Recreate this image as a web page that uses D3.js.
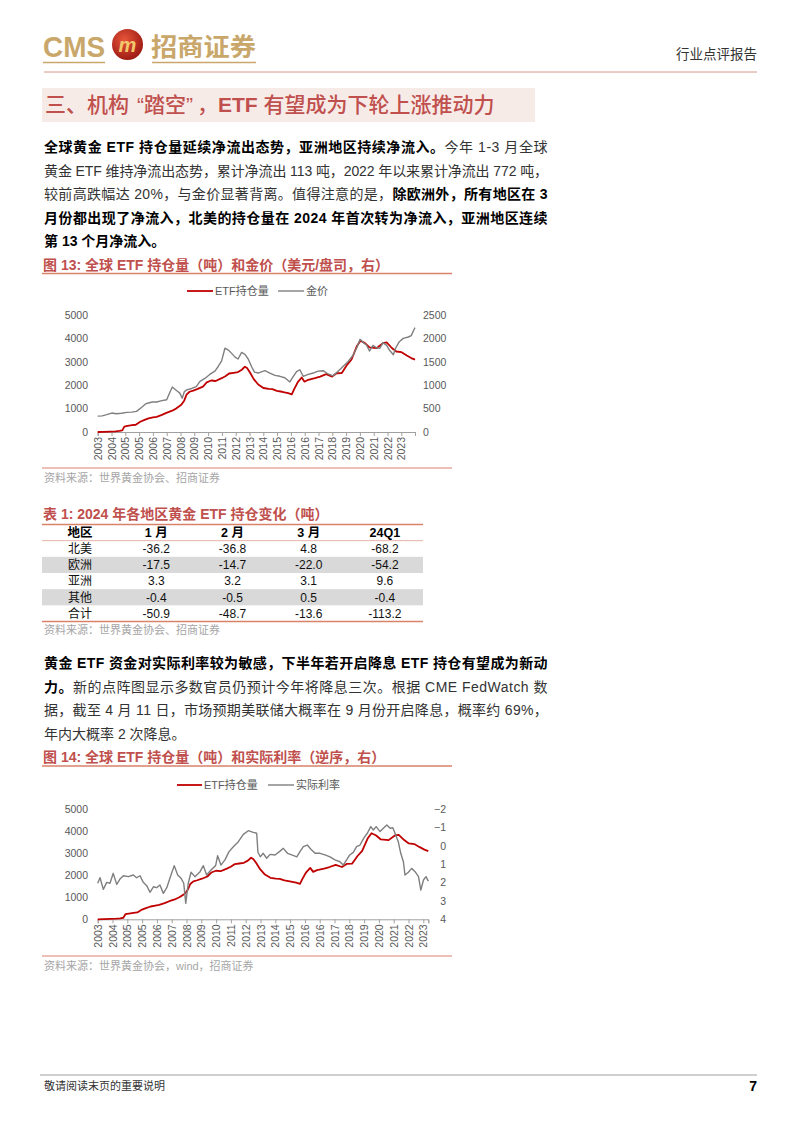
<!DOCTYPE html>
<html><head><meta charset="utf-8">
<script src="https://cdn.jsdelivr.net/npm/d3@7"></script>
<style>
body{margin:0;background:#fff;width:802px;height:1133px;position:relative;overflow:hidden;}
svg{position:absolute;left:0;top:0;}
.line{position:absolute;left:44px;height:20px;line-height:20px;font-size:14px;font-family:'Liberation Sans','Noto Sans CJK SC',sans-serif;color:#333;white-space:nowrap;}
</style></head><body>
<script>
const SANS = "'Liberation Sans','Noto Sans CJK SC',sans-serif";
const TITLE_RED = "#c0504d";
const LINE_RED = "#c00000";
const GRAY = "#7f7f7f";

// ---------------- DATA ----------------
const xTickLabels = ["2003","2004","2005","2005","2006","2007","2008","2009","2010","2011","2012","2013","2014","2015","2016","2016","2017","2018","2019","2020","2021","2022","2023"];
const etfTicks = [0,1000,2000,3000,4000,5000];
const goldTicks = [0,500,1000,1500,2000,2500];
const rateTicks = [-2,-1,0,1,2,3,4];

// ETF holdings (tonnes) [decimal year, value]
const etfHoldings = [[2003.00,0],[2003.40,5],[2003.80,15],[2004.20,30],[2004.45,45],[2004.65,70],[2004.78,230],[2005.00,260],[2005.30,290],[2005.55,310],[2005.85,440],[2006.10,510],[2006.40,580],[2006.70,620],[2006.95,650],[2007.30,730],[2007.60,820],[2007.95,900],[2008.25,1000],[2008.60,1160],[2008.80,1350],[2008.95,1600],[2009.15,1720],[2009.40,1770],[2009.70,1840],[2010.05,1940],[2010.30,2120],[2010.60,2200],[2010.90,2180],[2011.30,2300],[2011.55,2380],[2011.80,2500],[2012.10,2530],[2012.40,2560],[2012.65,2660],[2012.86,2790],[2013.00,2730],[2013.20,2540],[2013.45,2260],[2013.75,2030],[2014.10,1880],[2014.45,1840],[2014.70,1830],[2015.00,1760],[2015.35,1720],[2015.75,1660],[2016.00,1610],[2016.15,1820],[2016.40,2130],[2016.66,2330],[2016.85,2150],[2017.10,2230],[2017.55,2300],[2017.90,2370],[2018.30,2470],[2018.70,2370],[2019.00,2510],[2019.35,2520],[2019.70,2870],[2020.00,3100],[2020.35,3660],[2020.60,3900],[2020.90,3800],[2021.20,3620],[2021.70,3590],[2022.10,3800],[2022.35,3830],[2022.70,3590],[2023.00,3440],[2023.35,3410],[2023.70,3270],[2024.00,3160],[2024.25,3090]];

// Gold price (USD/oz)
const goldPrice = [[2003.00,340],[2003.30,345],[2003.60,370],[2003.94,405],[2004.25,390],[2004.60,400],[2004.95,420],[2005.27,425],[2005.60,440],[2005.95,530],[2006.20,600],[2006.40,620],[2006.65,640],[2006.95,640],[2007.30,670],[2007.62,690],[2007.85,860],[2008.00,960],[2008.15,920],[2008.30,880],[2008.50,830],[2008.66,720],[2008.80,860],[2008.96,900],[2009.30,930],[2009.60,970],[2009.85,1080],[2010.20,1150],[2010.50,1230],[2010.85,1300],[2011.07,1400],[2011.30,1520],[2011.52,1790],[2011.75,1750],[2011.97,1680],[2012.20,1600],[2012.40,1560],[2012.64,1700],[2012.86,1660],[2013.08,1560],[2013.30,1400],[2013.50,1280],[2013.75,1260],[2014.00,1290],[2014.20,1310],[2014.53,1260],[2014.87,1210],[2015.20,1190],[2015.53,1160],[2015.87,1070],[2016.10,1190],[2016.32,1290],[2016.54,1330],[2016.76,1190],[2017.10,1230],[2017.43,1260],[2017.76,1300],[2018.10,1310],[2018.43,1240],[2018.76,1200],[2019.10,1300],[2019.43,1400],[2019.76,1500],[2020.10,1640],[2020.35,1800],[2020.57,1980],[2020.79,1910],[2021.00,1860],[2021.20,1730],[2021.44,1850],[2021.66,1800],[2021.90,1790],[2022.10,1910],[2022.35,1850],[2022.56,1740],[2022.80,1650],[2022.95,1790],[2023.20,1930],[2023.46,2000],[2023.80,2030],[2024.00,2060],[2024.17,2180],[2024.25,2230]];

// Real rate (%), plotted on reversed right axis
const realRate = [[2003.00,2.04],[2003.15,1.74],[2003.36,2.37],[2003.58,1.99],[2003.79,2.04],[2004.00,1.50],[2004.22,2.10],[2004.43,1.81],[2004.65,1.63],[2004.97,1.68],[2005.29,1.59],[2005.50,1.74],[2005.72,1.63],[2005.93,1.99],[2006.15,2.17],[2006.36,2.53],[2006.58,2.23],[2006.79,2.28],[2007.00,2.13],[2007.22,2.59],[2007.44,2.28],[2007.71,1.59],[2007.92,1.08],[2008.14,1.59],[2008.36,1.77],[2008.53,2.04],[2008.66,3.13],[2008.82,2.04],[2009.00,1.44],[2009.25,1.68],[2009.58,1.41],[2009.79,1.08],[2010.00,1.59],[2010.28,1.32],[2010.58,1.08],[2010.71,0.54],[2010.92,1.05],[2011.18,0.77],[2011.44,0.32],[2011.72,0.05],[2012.04,-0.22],[2012.36,-0.62],[2012.68,-0.82],[2013.00,-0.73],[2013.22,-0.68],[2013.30,0.35],[2013.45,0.60],[2013.64,0.41],[2013.86,0.68],[2014.08,0.47],[2014.40,0.50],[2014.72,0.29],[2014.93,0.14],[2015.20,0.41],[2015.47,0.50],[2015.80,0.60],[2016.00,0.32],[2016.22,0.05],[2016.47,-0.04],[2016.69,0.18],[2016.97,0.41],[2017.29,0.41],[2017.61,0.50],[2017.93,0.60],[2018.25,0.77],[2018.57,0.87],[2018.78,1.05],[2019.00,0.77],[2019.20,0.50],[2019.43,0.36],[2019.64,0.05],[2019.86,-0.04],[2020.12,-0.44],[2020.33,-0.68],[2020.55,-1.04],[2020.72,-0.86],[2020.90,-1.04],[2021.15,-0.77],[2021.36,-0.95],[2021.58,-1.13],[2021.80,-0.95],[2021.97,-0.98],[2022.11,-0.68],[2022.32,-0.22],[2022.48,0.41],[2022.65,0.87],[2022.75,1.59],[2022.97,1.44],[2023.18,1.23],[2023.40,1.41],[2023.62,1.68],[2023.77,2.41],[2023.94,1.86],[2024.10,1.68],[2024.25,1.92]];

// Table 1
const tableHeader = ["地区","1 月","2 月","3 月","24Q1"];
const regions = ["北美","欧洲","亚洲","其他","合计"];
const janFlows = [-36.2,-17.5,3.3,-0.4,-50.9];
const febFlows = [-36.8,-14.7,3.2,-0.5,-48.7];
const marFlows = [4.8,-22.0,3.1,0.5,-13.6];
const q1Flows = [-68.2,-54.2,9.6,-0.4,-113.2];

// Paragraph text (b = bold)
const para1 = [
  [["b","全球黄金 ETF 持仓量延续净流出态势，亚洲地区持续净流入。"],["n","今年 1-3 月全球"]],
  [["n","黄金 ETF 维持净流出态势，累计净流出 113 吨，2022 年以来累计净流出 772 吨，"]],
  [["n","较前高跌幅达 20%，与金价显著背离。值得注意的是，"],["b","除欧洲外，所有地区在 3"]],
  [["b","月份都出现了净流入，北美的持仓量在 2024 年首次转为净流入，亚洲地区连续"]],
  [["b","第 13 个月净流入。"]]
];
const para2 = [
  [["b","黄金 ETF 资金对实际利率较为敏感，下半年若开启降息 ETF 持仓有望成为新动"]],
  [["b","力。"],["n","新的点阵图显示多数官员仍预计今年将降息三次。根据 CME FedWatch 数"]],
  [["n","据，截至 4 月 11 日，市场预期美联储大概率在 9 月份开启降息，概率约 69%，"]],
  [["n","年内大概率 2 次降息。"]]
];

// ---------------- PAGE ----------------
const svg = d3.select("body").append("svg").attr("width",802).attr("height",1133);

// Header
const gold = "#c9a76b";
svg.append("text").attr("x",43).attr("y",57).attr("font-family",SANS).attr("font-weight","bold")
  .attr("font-size",30).attr("fill",gold).attr("textLength",62).attr("lengthAdjust","spacingAndGlyphs").text("CMS");
const grad = svg.append("defs").append("radialGradient").attr("id","lg").attr("cx","40%").attr("cy","35%").attr("r","65%");
grad.append("stop").attr("offset","0%").attr("stop-color","#e8553a");
grad.append("stop").attr("offset","100%").attr("stop-color","#9e1b14");
svg.append("circle").attr("cx",127.5).attr("cy",44.5).attr("r",15.5).attr("fill","url(#lg)");
svg.append("text").attr("x",127.5).attr("y",52).attr("text-anchor","middle").attr("font-family",SANS)
  .attr("font-weight","bold").attr("font-style","italic").attr("font-size",20).attr("fill","#f3c86a").text("m");
svg.append("text").attr("x",151).attr("y",56).attr("font-family",SANS).attr("font-weight","bold")
  .attr("font-size",25).attr("fill",gold).attr("textLength",105).attr("lengthAdjust","spacingAndGlyphs").text("招商证券");
svg.append("line").attr("x1",43).attr("x2",105).attr("y1",62.5).attr("y2",62.5).attr("stroke",gold).attr("stroke-width",1.5);
svg.append("line").attr("x1",152).attr("x2",256).attr("y1",62.5).attr("y2",62.5).attr("stroke",gold).attr("stroke-width",1.5);
svg.append("line").attr("x1",44).attr("x2",757).attr("y1",72).attr("y2",72).attr("stroke","#d9968a").attr("stroke-width",1);
svg.append("text").attr("x",757).attr("y",59).attr("text-anchor","end").attr("font-family",SANS)
  .attr("font-size",13.5).attr("fill","#333").text("行业点评报告");

// Section heading
svg.append("rect").attr("x",42).attr("y",88).attr("width",493).attr("height",34).attr("fill","#f7ebe8");
const ht = svg.append("text").attr("x",45).attr("y",111.5).attr("font-family",SANS).attr("font-size",21)
  .attr("fill",TITLE_RED).attr("font-weight",500);
ht.append("tspan").text("三、机构");
ht.append("tspan").attr("dx",8).text("“踏空”");
ht.append("tspan").attr("dx",4).text("，");
ht.append("tspan").attr("font-weight","bold").text("ETF");
ht.append("tspan").text(" 有望成为下轮上涨推动力");

// Paragraphs
function paragraph(lines, firstCenter, lh){
  lines.forEach((parts,i)=>{
    const div = d3.select("body").append("div").attr("class","line").style("top",(firstCenter + i*lh - 10)+"px");
    const span = div.append("span");
    let n = 0;
    parts.forEach(p=>{
      span.append("span").style("font-weight",p[0]==="b"?"bold":"normal").style("color",p[0]==="b"?"#000":"#333").text(p[1]);
      n += [...p[1]].length;
    });
    if(i < lines.length-1){
      const w = span.node().getBoundingClientRect().width;
      span.style("letter-spacing", ((504 - w)/n)+"px");
    }
  });
}
paragraph(para1, 147, 23.5);
paragraph(para2, 663, 23.6);

// Title + underline helper
function figTitle(label, yBase, lineY, lineX2){
  svg.append("text").attr("x",43).attr("y",yBase).attr("font-family",SANS).attr("font-size",14)
    .attr("font-weight","bold").attr("fill",TITLE_RED).text(label);
  if(lineY) svg.append("line").attr("x1",42).attr("x2",lineX2).attr("y1",lineY).attr("y2",lineY)
    .attr("stroke","#d9826a").attr("stroke-width",1.3);
}
function source(label, lineY, textY){
  svg.append("line").attr("x1",42).attr("x2",452).attr("y1",lineY).attr("y2",lineY).attr("stroke","#d9826a").attr("stroke-width",1.2);
  svg.append("text").attr("x",44).attr("y",textY).attr("font-family",SANS).attr("font-size",11)
    .attr("fill","#a6a6a6").text(label);
}

// Chart helper
function drawChart(o){
  const g = svg.append("g");
  const x = d3.scaleLinear().domain([2003, 2024.25]).range([o.x0, o.x1]);
  const yL = d3.scaleLinear().domain([0,5000]).range([o.yB, o.yT]);
  const yR = d3.scaleLinear().domain(o.rDomain).range([o.yB, o.yT]);
  const tickVals = d3.range(xTickLabels.length).map(i=>x.invert(o.x0 + i*o.step));
  tickVals.push(2024.25);
  const xa = g.append("g").attr("transform",`translate(0,${o.yB})`)
    .call(d3.axisBottom(x).tickValues(tickVals).tickSizeOuter(0).tickSize(4).tickFormat((d,i)=>xTickLabels[i]||""));
  xa.select(".domain").attr("stroke","#a0a0a0");
  xa.selectAll(".tick line").attr("stroke","#a0a0a0");
  xa.selectAll("text").attr("transform","rotate(-90)").attr("x",-5).attr("y",0).attr("dy","0.35em")
    .attr("text-anchor","end").attr("font-family",SANS).attr("font-size",10.5).attr("fill","#595959");
  const la = g.append("g").attr("transform",`translate(88,0)`)
    .call(d3.axisLeft(yL).tickValues(etfTicks).tickSize(0).tickPadding(0).tickFormat(d3.format("d")));
  la.select(".domain").remove();
  la.selectAll("text").attr("font-family",SANS).attr("font-size",10.5).attr("fill","#595959");
  const ra = g.append("g").attr("transform",`translate(${o.rx},0)`)
    .call(d3.axisRight(yR).tickValues(o.rTicks).tickSize(0).tickPadding(0).tickFormat(d3.format("d")));
  ra.select(".domain").remove();
  ra.selectAll("text").attr("font-family",SANS).attr("font-size",10.5).attr("fill","#595959")
    .attr("text-anchor",o.rAnchor).attr("x",0);
  const lineL = d3.line().x(d=>x(d[0])).y(d=>yL(d[1]));
  const lineR = d3.line().x(d=>x(d[0])).y(d=>yR(d[1]));
  g.append("path").datum(etfHoldings).attr("d",lineL).attr("fill","none").attr("stroke",LINE_RED).attr("stroke-width",1.8).attr("stroke-linejoin","round");
  g.append("path").datum(o.rData).attr("d",lineR).attr("fill","none").attr("stroke",GRAY).attr("stroke-width",1.4).attr("stroke-linejoin","round");
  // legend
  o.legend.forEach(l=>{
    g.append("line").attr("x1",l.x1).attr("x2",l.x2).attr("y1",o.legY).attr("y2",o.legY).attr("stroke",l.color).attr("stroke-width",l.w);
    g.append("text").attr("x",l.x2+2).attr("y",o.legY).attr("dy","0.35em").attr("font-family",SANS)
      .attr("font-size",11).attr("fill","#595959").text(l.name);
  });
}

// Figure 13
figTitle("图 13: 全球 ETF 持仓量（吨）和金价（美元/盘司，右）", 270, 273.5, 452);
drawChart({x0:97.7, x1:415, yT:315, yB:432, step:13.8, rDomain:[0,2500], rTicks:goldTicks, rx:423, rAnchor:"start",
  rData:goldPrice, legY:291,
  legend:[{x1:187,x2:213,color:LINE_RED,w:1.8,name:"ETF持仓量"},{x1:278,x2:304,color:GRAY,w:1.4,name:"金价"}]});
source("资料来源：世界黄金协会、招商证券", 468, 482);

// Table 1
figTitle("表 1: 2024 年各地区黄金 ETF 持仓变化（吨）", 519, null);
const colX = d3.scaleBand().domain(tableHeader).range([42,423]);
const rowY = d3.scaleBand().domain(["header"].concat(regions)).range([524.5,621.5]);
regions.forEach((r,i)=>{ if(i===1||i===3) svg.append("rect").attr("x",42).attr("width",381)
  .attr("y",rowY(r)).attr("height",rowY.bandwidth()).attr("fill","#d9d9d9"); });
svg.append("line").attr("x1",42).attr("x2",423).attr("y1",524.5).attr("y2",524.5).attr("stroke","#d9826a").attr("stroke-width",1.3);
svg.append("line").attr("x1",42).attr("x2",423).attr("y1",rowY(regions[0])).attr("y2",rowY(regions[0])).attr("stroke","#e0a090").attr("stroke-width",0.8);
svg.append("line").attr("x1",42).attr("x2",423).attr("y1",621.5).attr("y2",621.5).attr("stroke","#d9826a").attr("stroke-width",1.3);
tableHeader.forEach(h=>{
  svg.append("text").attr("x",colX(h)+colX.bandwidth()/2).attr("y",rowY("header")+rowY.bandwidth()/2).attr("dy","0.36em")
    .attr("text-anchor","middle").attr("font-family",SANS).attr("font-weight","bold").attr("font-size",12.5).attr("fill","#000").text(h);
});
const cols = [regions, janFlows, febFlows, marFlows, q1Flows];
regions.forEach((r,i)=>{
  cols.forEach((c,j)=>{
    const v = j===0 ? c[i] : c[i].toFixed(1);
    svg.append("text").attr("x",colX(tableHeader[j])+colX.bandwidth()/2).attr("y",rowY(r)+rowY.bandwidth()/2).attr("dy","0.36em")
      .attr("text-anchor","middle").attr("font-family",SANS).attr("font-size",12).attr("fill","#111").text(v);
  });
});
svg.append("text").attr("x",44).attr("y",634).attr("font-family",SANS).attr("font-size",11).attr("fill","#a6a6a6").text("资料来源：世界黄金协会、招商证券");

// Figure 14
figTitle("图 14: 全球 ETF 持仓量（吨）和实际利率（逆序，右）", 762, 766, 452);
drawChart({x0:97.7, x1:428.3, yT:809, yB:919.3, step:14.8, rDomain:[4,-2], rTicks:rateTicks, rx:446, rAnchor:"end",
  rData:realRate, legY:785,
  legend:[{x1:177,x2:202,color:LINE_RED,w:1.8,name:"ETF持仓量"},{x1:268,x2:294,color:GRAY,w:1.4,name:"实际利率"}]});
source("资料来源：世界黄金协会，wind，招商证券", 956, 970);

// Footer
svg.append("line").attr("x1",40).attr("x2",757).attr("y1",1075).attr("y2",1075).attr("stroke","#a0a0a0").attr("stroke-width",1);
svg.append("text").attr("x",44).attr("y",1090).attr("font-family",SANS).attr("font-size",11).attr("fill","#333").text("敬请阅读末页的重要说明");
svg.append("text").attr("x",757).attr("y",1091).attr("text-anchor","end").attr("font-family",SANS).attr("font-weight","bold").attr("font-size",14).attr("fill","#000").text("7");
</script></body></html>
